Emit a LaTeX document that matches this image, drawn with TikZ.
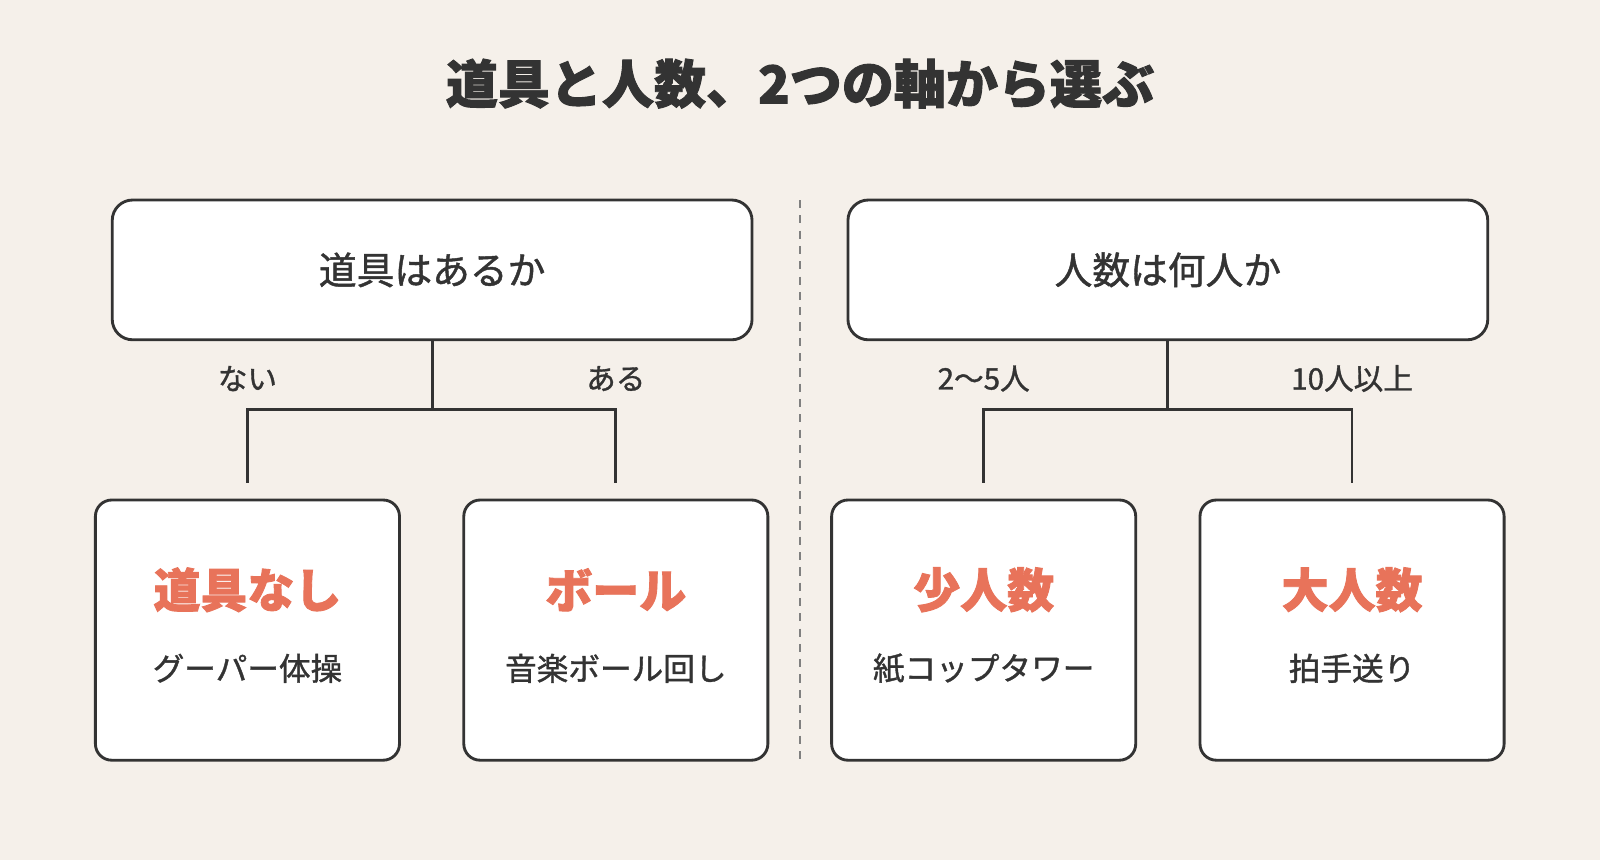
\documentclass[tikz,border=0pt]{standalone}
\usepackage{fontspec}
\setmainfont{Noto Sans CJK JP}
\newfontfamily\medfont{Noto Sans CJK JP}[FakeBold=1.2]
\newfontfamily\heavyfont{Noto Sans CJK JP}[BoldFeatures={FakeBold=1.8}]
\usetikzlibrary{positioning}
\definecolor{bgcol}{HTML}{F5F0EA}
\definecolor{inkcol}{HTML}{333333}
\definecolor{accent}{HTML}{E8735A}
\begin{document}
\begin{tikzpicture}[x=1pt,y=-1pt,line width=2.8pt,draw=inkcol,
    question/.style={draw=inkcol,fill=white,rounded corners=20pt,minimum width=627pt,minimum height=137pt,font=\medfont\fontsize{37}{44}\selectfont,text=inkcol},
    answer/.style={draw=inkcol,fill=white,rounded corners=16pt,minimum width=298pt,minimum height=255pt},
    head/.style={font=\heavyfont\fontsize{46}{54}\selectfont\bfseries,text=accent},
    sub/.style={font=\medfont\fontsize{31}{37}\selectfont,text=inkcol},
    branch/.style={font=\medfont\fontsize{29}{35}\selectfont,text=inkcol}]
  \fill[bgcol] (0,0) rectangle (1568,843);
  \useasboundingbox (0,0) rectangle (1568,843);
  \node[font=\heavyfont\fontsize{51}{60}\selectfont\bfseries,text=inkcol] (title) at (784,82) {道具と人数、2つの軸から選ぶ};
  \draw[gray,line width=2pt,dash pattern=on 8pt off 7pt] (784,196) -- (784,745);

  % questions
  \node[question] (tool) at (423.5,264.5) {道具はあるか};
  \node[question] (people) at (1144.5,264.5) {人数は何人か};

  % answers
  \node[answer] (none) at (242.5,617.5) {};
  \node[answer] (ball) at (603.5,617.5) {};
  \node[answer] (few) at (964,617.5) {};
  \node[answer] (many) at (1325,617.5) {};
  \node[head] (noneH) at (242.5,578) {道具なし};
  \node[sub] (noneS) at (242.5,655) {グーパー体操};
  \node[head] (ballH) at (603.5,578) {ボール};
  \node[sub] (ballS) at (603.5,655) {音楽ボール回し};
  \node[head] (fewH) at (964,578) {少人数};
  \node[sub] (fewS) at (964,655) {紙コップタワー};
  \node[head] (manyH) at (1325,578) {大人数};
  \node[sub] (manyS) at (1325,655) {拍手送り};

  % branches
  \coordinate (toolJ) at (423.5,401);
  \coordinate (noneT) at (242.5,473);
  \coordinate (ballT) at (603.5,473);
  \coordinate (peopleJ) at (1144.5,401);
  \coordinate (fewT) at (964,473);
  \coordinate (manyT) at (1325,473);
  \draw (tool.south) -- (toolJ);
  \draw (noneT) |- (toolJ) -| (ballT);
  \draw (people.south) -- (peopleJ);
  \draw (fewT) |- (peopleJ) -| (manyT);
  \node[branch] (noLbl) at (242.5,371) {ない};
  \node[branch] (yesLbl) at (603.5,371) {ある};
  \node[branch] (smallLbl) at (964,371) {2〜5人};
  \node[branch] (bigLbl) at (1325,371) {10人以上};
\end{tikzpicture}
\end{document}
